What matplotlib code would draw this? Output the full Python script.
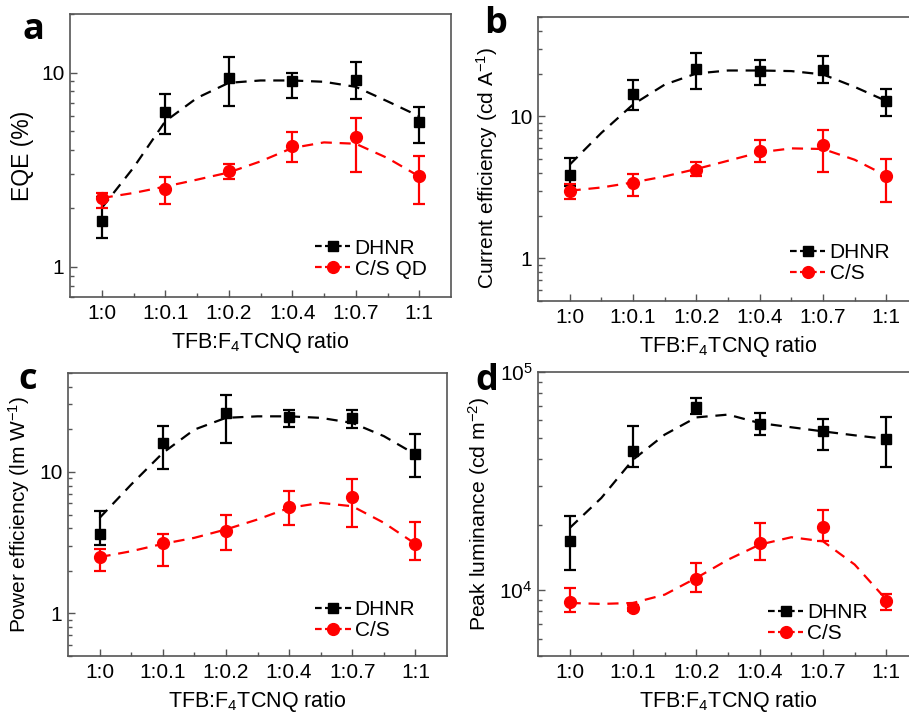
import matplotlib
matplotlib.use("Agg")
import matplotlib.pyplot as plt
from matplotlib.lines import Line2D
from matplotlib.ticker import LogLocator, NullFormatter, FixedLocator, LogFormatterMathtext, FuncFormatter
import numpy as np

plt.rcParams['font.family'] = ['Liberation Sans', 'DejaVu Sans']
plt.rcParams['mathtext.fontset'] = 'custom'
plt.rcParams['mathtext.rm'] = 'Liberation Sans'
plt.rcParams['mathtext.it'] = 'Liberation Sans:italic'
plt.rcParams['mathtext.bf'] = 'Liberation Sans:bold'

categories = ["1:0", "1:0.1", "1:0.2", "1:0.4", "1:0.7", "1:1"]
fit_x = [0, 0.5, 1, 1.5, 2, 2.5, 3, 3.5, 4, 4.5, 5]

# Panel a: EQE (%)
eqe_dhnr = [1.73, 6.24, 9.42, 9.02, 9.17, 5.54]
eqe_dhnr_hi = [2.29, 7.73, 12.0, 9.95, 11.3, 6.65]
eqe_dhnr_lo = [1.41, 4.81, 6.76, 7.41, 7.32, 4.34]
eqe_cs = [2.26, 2.53, 3.10, 4.17, 4.66, 2.92]
eqe_cs_hi = [2.40, 2.91, 3.40, 4.96, 5.84, 3.70]
eqe_cs_lo = [2.01, 2.10, 2.83, 3.45, 3.08, 2.10]
eqe_dhnr_fit = [2.01, 3.24, 5.61, 7.4, 8.85, 9.1, 9.1, 8.96, 8.44, 7.11, 5.95]
eqe_cs_fit = [2.26, 2.40, 2.59, 2.81, 3.06, 3.49, 4.09, 4.37, 4.30, 3.63, 2.92]

# Panel b: current efficiency (cd/A)
ce_dhnr = [3.88, 14.4, 21.6, 20.7, 21.3, 12.9]
ce_dhnr_hi = [5.08, 17.9, 27.7, 25.1, 26.4, 15.6]
ce_dhnr_lo = [3.21, 11.0, 15.6, 16.5, 17.2, 10.1]
ce_cs = [2.99, 3.38, 4.20, 5.72, 6.31, 3.81]
ce_cs_hi = [3.33, 3.92, 4.76, 6.77, 7.96, 4.97]
ce_cs_lo = [2.62, 2.75, 3.77, 4.73, 4.03, 2.51]
ce_dhnr_fit = [4.56, 7.63, 12.1, 16.7, 20.0, 21.0, 21.0, 20.8, 19.7, 16.1, 12.8]
ce_cs_fit = [2.99, 3.15, 3.42, 3.77, 4.25, 4.86, 5.57, 5.94, 5.88, 4.94, 3.81]

# Panel c: power efficiency (lm/W)
pe_dhnr = [3.67, 16.0, 26.1, 24.3, 24.1, 13.3]
pe_dhnr_hi = [5.33, 21.2, 34.8, 27.2, 27.2, 18.6]
pe_dhnr_lo = [3.02, 10.4, 16.0, 20.8, 20.5, 9.22]
pe_cs = [2.50, 3.12, 3.81, 5.66, 6.66, 3.10]
pe_cs_hi = [2.86, 3.65, 5.0, 7.31, 8.97, 4.41]
pe_cs_lo = [2.01, 2.18, 2.80, 4.20, 4.09, 2.40]
pe_dhnr_fit = [4.73, 8.14, 13.6, 19.9, 24.1, 24.7, 24.7, 24.1, 22.2, 17.9, 13.3]
pe_cs_fit = [2.50, 2.75, 3.10, 3.42, 3.92, 4.61, 5.57, 6.04, 5.72, 4.37, 3.10]

# Panel d: peak luminance (cd/m2)
lum_dhnr = [16760, 43330, 69150, 57780, 53850, 49350]
lum_dhnr_hi = [21980, 56770, 76000, 64900, 60920, 61960]
lum_dhnr_lo = [12430, 36720, 64200, 51640, 43770, 36720]
lum_cs = [8810, 8300, 11270, 16470, 19500, 8900]
lum_cs_hi = [10250, 8590, 13340, 20340, 23240, 9650]
lum_cs_lo = [7960, 8010, 9830, 13720, 16760, 8100]
lum_dhnr_fit = [19290, 26480, 39650, 51640, 61960, 63800, 58350, 55820, 53450, 51280, 49350]
lum_cs_fit = [8750, 8660, 8750, 9550, 11390, 13810, 16190, 17500, 16760, 13120, 9060]

W, H = 909, 715
fig = plt.figure(figsize=(W / 100, H / 100), dpi=100)

def px_axes(l, t, r, b):
    return fig.add_axes([l / W, 1 - b / H, (r - l) / W, (b - t) / H])

spine_col = '#555555'
RED = '#ff0000'

def draw_panel(ax, dh, dh_hi, dh_lo, cs, cs_hi, cs_lo, dh_fit, cs_fit, ylim, ylabel, cs_label,
               legend_loc, ylabel_size, sci=False):
    x = np.arange(len(categories))
    ax.set_yscale('log')
    ax.plot(fit_x, dh_fit, color='black', ls=(0, (5, 3.5)), lw=1.6, zorder=2)
    ax.plot(fit_x, cs_fit, color=RED, ls=(0, (5, 3.5)), lw=1.6, zorder=2)
    dh = np.array(dh); cs = np.array(cs)
    ax.errorbar(x, dh, yerr=[dh - np.array(dh_lo), np.array(dh_hi) - dh], fmt='s', color='black',
                ms=7.5, capsize=4.5, elinewidth=1.6, capthick=1.6, zorder=3)
    ax.errorbar(x, cs, yerr=[cs - np.array(cs_lo), np.array(cs_hi) - cs], fmt='o', color=RED,
                ms=8.5, capsize=4.5, elinewidth=1.6, capthick=1.6, zorder=3)
    ax.set_xlim(-0.5, 5.5)
    ax.set_ylim(*ylim)
    ax.set_xticks(x)
    ax.set_xticklabels(categories)
    ax.xaxis.set_minor_locator(FixedLocator(x[:-1] + 0.5))
    ax.yaxis.set_major_locator(LogLocator(base=10, numticks=10))
    ax.yaxis.set_minor_locator(LogLocator(base=10, subs=np.arange(2, 10), numticks=20))
    ax.yaxis.set_minor_formatter(NullFormatter())
    if sci:
        ax.yaxis.set_major_formatter(LogFormatterMathtext())
    else:
        ax.yaxis.set_major_formatter(FuncFormatter(lambda v, p: '%g' % v))
    ax.tick_params(which='both', direction='in', colors=spine_col, labelcolor='black',
                   labelsize=15)
    ax.tick_params(which='major', length=5, width=1)
    ax.tick_params(which='minor', length=3, width=1)
    ax.tick_params(axis='x', which='major', pad=5)
    ax.tick_params(axis='y', which='major', pad=4)
    for s in ax.spines.values():
        s.set_color(spine_col)
        s.set_linewidth(1.2)
    ax.set_xlabel('TFB:F$_4$TCNQ ratio', fontsize=15.5, labelpad=5)
    ax.set_ylabel(ylabel, fontsize=ylabel_size, labelpad=5)
    handles = [
        Line2D([], [], color='black', ls=(0, (3, 1.5)), lw=1.6, marker='s', ms=7.5),
        Line2D([], [], color=RED, ls=(0, (3, 1.5)), lw=1.6, marker='o', ms=8.5),
    ]
    ax.legend(handles, ['DHNR', cs_label], loc='lower left', bbox_to_anchor=legend_loc,
              frameon=False, fontsize=15, handlelength=1.7, handletextpad=0.2,
              labelspacing=0.1, borderaxespad=0, borderpad=0)

ax_a = px_axes(70, 14, 451, 297)
draw_panel(ax_a, eqe_dhnr, eqe_dhnr_hi, eqe_dhnr_lo, eqe_cs, eqe_cs_hi, eqe_cs_lo,
           eqe_dhnr_fit, eqe_cs_fit, (0.7, 20), 'EQE (%)', 'C/S QD', (0.643, 0.065), 16.5)

ax_b = px_axes(538, 17, 918, 301)
draw_panel(ax_b, ce_dhnr, ce_dhnr_hi, ce_dhnr_lo, ce_cs, ce_cs_hi, ce_cs_lo,
           ce_dhnr_fit, ce_cs_fit, (0.5, 50), 'Current efficiency (cd A$^{-1}$)', 'C/S',
           (0.663, 0.062), 15)
ax_b.yaxis.set_label_coords(-0.1, 0.47)

ax_c = px_axes(68, 373, 447, 656)
draw_panel(ax_c, pe_dhnr, pe_dhnr_hi, pe_dhnr_lo, pe_cs, pe_cs_hi, pe_cs_lo,
           pe_dhnr_fit, pe_cs_fit, (0.5, 50), 'Power efficiency (lm W$^{-1}$)', 'C/S',
           (0.652, 0.055), 15)

ax_d = px_axes(538, 372, 918, 656)
draw_panel(ax_d, lum_dhnr, lum_dhnr_hi, lum_dhnr_lo, lum_cs, lum_cs_hi, lum_cs_lo,
           lum_dhnr_fit, lum_cs_fit, (5000, 1e5), 'Peak luminance (cd m$^{-2}$)', 'C/S',
           (0.605, 0.045), 15.2, sci=True)

for lbl, (px, py) in zip('abcd', [(33, 30), (496, 24), (28, 380), (487, 381)]):
    fig.text(px / W, 1 - py / H, lbl, fontsize=26, fontweight='bold', ha='center', va='center',
             family=['Open Sans', 'DejaVu Sans'])

fig.savefig('out.png', dpi=100)
